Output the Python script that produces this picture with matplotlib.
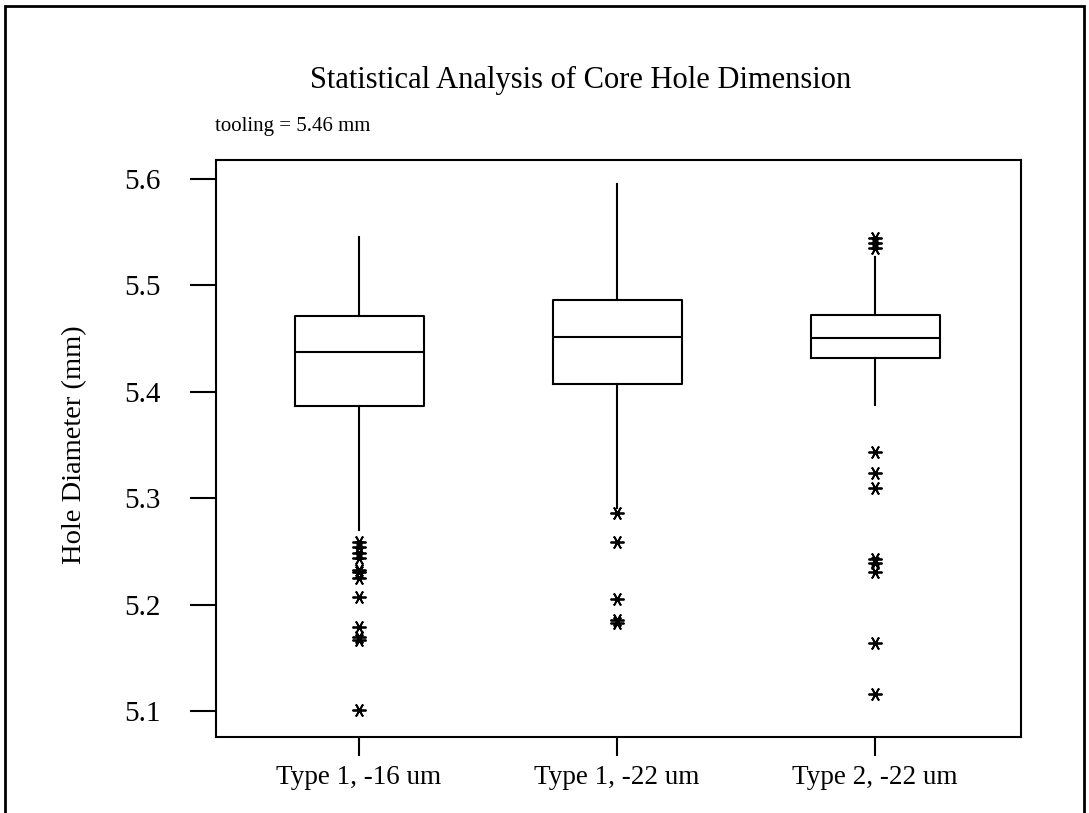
import matplotlib
matplotlib.use("Agg")
import matplotlib.pyplot as plt
from matplotlib.patches import Rectangle

plt.rcParams['font.family'] = ['Liberation Serif', 'DejaVu Serif']

# data
labels = ["Type 1, -16 um", "Type 1, -22 um", "Type 2, -22 um"]
q1 = [5.387, 5.407, 5.432]
med = [5.437, 5.452, 5.451]
q3 = [5.471, 5.486, 5.472]
whislo = [5.270, 5.291, 5.388]
whishi = [5.546, 5.595, 5.527]
fliers_1 = [5.259, 5.254, 5.249, 5.244, 5.233, 5.231, 5.225, 5.207,
            5.179, 5.170, 5.167, 5.101]
fliers_2 = [5.286, 5.259, 5.205, 5.186, 5.183]
fliers_3 = [5.545, 5.540, 5.535, 5.343, 5.324, 5.310, 5.243, 5.239,
            5.231, 5.164, 5.116]
yticks = [5.1, 5.2, 5.3, 5.4, 5.5, 5.6]

fliers = [fliers_1, fliers_2, fliers_3]
stats = []
for i in range(3):
    stats.append(dict(label=labels[i], q1=q1[i], med=med[i], q3=q3[i],
                      whislo=whislo[i], whishi=whishi[i], fliers=fliers[i]))

fig = plt.figure(figsize=(10.89, 8.13), dpi=100)
ax = fig.add_axes([216/1089, 1 - 737/813, (1021-216)/1089, (737-160)/813])

lw = 1.5
ax.bxp(stats, positions=[1, 2, 3], widths=0.5, showcaps=False,
       boxprops=dict(color='black', linewidth=lw),
       whiskerprops=dict(color='black', linewidth=lw),
       medianprops=dict(color='black', linewidth=lw),
       flierprops=dict(marker=(6, 2, 90), markersize=10, markeredgecolor='black',
                       markeredgewidth=1.3, linestyle='none'))

ax.set_xlim(1 - 143/258, 3 + 146/258)
ax.set_ylim(5.0756, 5.6179)
ax.set_yticks(yticks)
ax.set_yticklabels([f"{v:.1f}" for v in yticks], fontsize=21)
ax.set_xticks([1, 2, 3])
ax.set_xticklabels(labels, fontsize=19.5)
ax.tick_params(axis='y', direction='out', length=19, width=lw, pad=21)
ax.tick_params(axis='x', direction='out', length=14, width=lw, pad=6)
for s in ax.spines.values():
    s.set_linewidth(lw)

fig.text(75/1089, 1 - 445/813, "Hole Diameter (mm)", rotation=90,
         ha='center', va='center', fontsize=20.5)
fig.text(581/1089, 1 - 80/813, "Statistical Analysis of Core Hole Dimension",
         ha='center', va='center', fontsize=22)
fig.text(215/1089, 1 - 127/813, "tooling = 5.46 mm",
         ha='left', va='center', fontsize=15)

# outer frame
fig.patches.append(Rectangle((5/1089, -0.05), (1084-5)/1089, 1.05 - 6/813,
                             transform=fig.transFigure, fill=False,
                             edgecolor='black', linewidth=2))

fig.savefig("out.png", dpi=100)
